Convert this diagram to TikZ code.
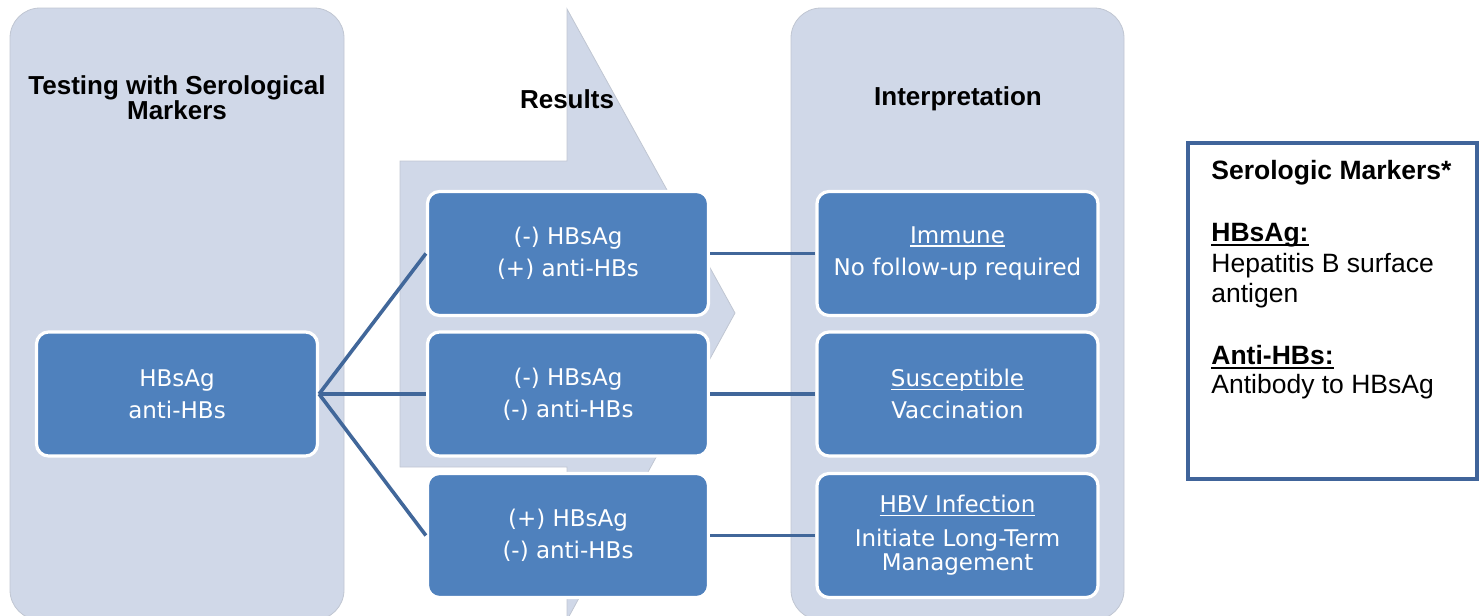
\documentclass[tikz,border=0pt]{standalone}
\usepackage{fontspec}
\setmainfont{Liberation Sans}
\newfontfamily\boxfont{DejaVu Sans}
\definecolor{panelfill}{HTML}{D0D8E8}
\definecolor{paneledge}{HTML}{C0C6D2}
\definecolor{boxfill}{HTML}{4F81BD}
\definecolor{linkcol}{HTML}{41679A}
\definecolor{legendedge}{HTML}{40649A}
\newcommand\myul[1]{\setbox0\hbox{#1}\rlap{\rule[-1.7pt]{\wd0}{0.7pt}}\box0}
\newcommand\mylegul[1]{\setbox0\hbox{#1}\rlap{\rule[-2.4pt]{\wd0}{1pt}}\box0}
\tikzset{
  panel/.style={fill=panelfill, draw=paneledge, line width=0.4pt, rounded corners=15pt},
  bluebox/.style={draw=white, line width=1.6pt, fill=boxfill, rounded corners=6pt,
    minimum width=140.5pt, minimum height=62pt, inner sep=0pt, text=white, align=center,
    font=\boxfont\fontsize{11.5}{16}\selectfont},
  title/.style={font=\bfseries\fontsize{13}{12.5}\selectfont, align=center, text=black, inner sep=0pt},
  link/.style={draw=linkcol, line width=1.8pt},
  legtext/.style={anchor=base west, inner sep=0pt, font=\fontsize{13.25}{15}\selectfont},
  legbold/.style={legtext, font=\bfseries\fontsize{13.25}{15}\selectfont}
}
\begin{document}
\begin{tikzpicture}[x=0.5pt, y=-0.5pt]
\useasboundingbox (0,0) rectangle (1479,616);
\clip (0,0) rectangle (1479,616);
% panels
\path[panel] (10,8) rectangle (344,620);
\path[panel] (791,8) rectangle (1124,620);
\path[fill=panelfill, draw=paneledge, line width=0.4pt]
  (567,9) -- (735,313) -- (567,620) -- (567,467) -- (400,467) -- (400,161) -- (567,161) -- cycle;
% titles
\node[title] (t1) at (177,98) {Testing with Serological\\Markers};
\node[title] (t2) at (567,99) {Results};
\node[title] (t3) at (958,99) {Interpretation};
% boxes
\node[bluebox] (src) at (177,394) {HBsAg\\anti-HBs};
\node[bluebox] (r1) at (568,253.5) {(-) HBsAg\\(+) anti-HBs};
\node[bluebox] (r2) at (568,394) {(-) HBsAg\\(-) anti-HBs};
\node[bluebox] (r3) at (568,535.5) {(+) HBsAg\\(-) anti-HBs};
\node[bluebox] (i1) at (957.5,253.5) {\myul{Immune}\\No follow-up required};
\node[bluebox] (i2) at (957.5,394) {\myul{Susceptible}\\Vaccination};
\node[bluebox] (i3) at (957.5,535.5) {\myul{HBV Infection}\\[1pt]Initiate Long-Term\\[-4pt]Management};
% connectors
\coordinate (hub) at (src.east);
\path[link] (hub) -- (r1.west);
\path[link] (hub) -- (r2.west);
\path[link] (hub) -- (r3.west);
\path[link] (r1.east) -- (i1.west);
\path[link] (r2.east) -- (i2.west);
\path[link] (r3.east) -- (i3.west);
% legend
\node[draw=legendedge, line width=1.75pt, fill=white, minimum width=144.5pt, minimum height=168pt, inner sep=0pt] (legend) at (1332.5,311) {};
\node[legbold] (l1) at (1211,179) {Serologic Markers*};
\node[legbold] (l2) at (1211,241) {\mylegul{HBsAg:}};
\node[legtext] (l3) at (1211,272) {Hepatitis B surface};
\node[legtext] (l4) at (1211,302) {antigen};
\node[legbold] (l5) at (1211,364) {\mylegul{Anti-HBs:}};
\node[legtext] (l6) at (1211,393) {Antibody to HBsAg};
\end{tikzpicture}
\end{document}
